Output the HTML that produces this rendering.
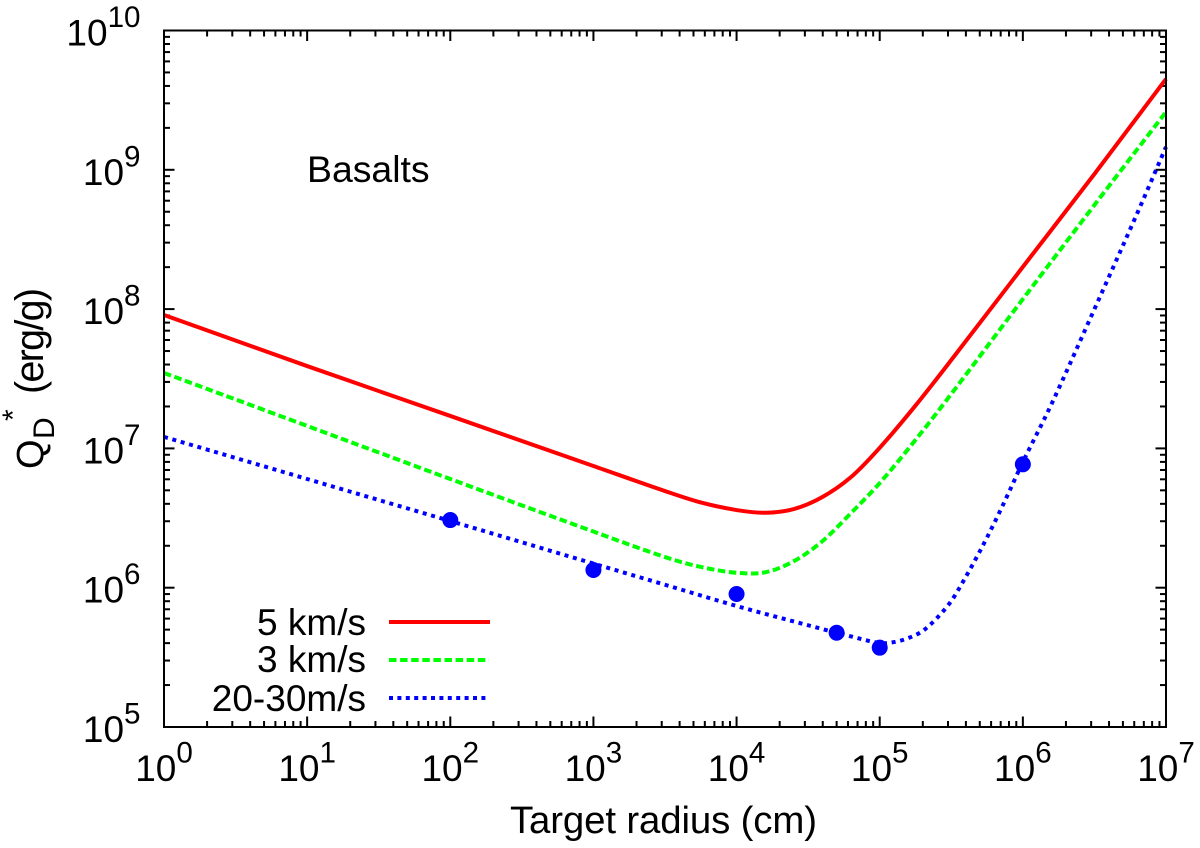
<!DOCTYPE html>
<html lang="en">
<head>
<meta charset="utf-8">
<title>Basalts disruption threshold</title>
<style>
html,body{margin:0;padding:0;background:#fff;}
#chart{display:block;width:1200px;height:848px;}
text{font-family:"Liberation Sans",Arial,sans-serif;font-size:37px;fill:#000;}
</style>
</head>
<body>
<svg id="chart" xmlns="http://www.w3.org/2000/svg" width="1200" height="848" viewBox="0 0 1200 848">
  <rect x="0" y="0" width="1200" height="848" fill="#ffffff"/>
  <g id="ticks"></g>
  <g id="xlabels"></g>
  <g id="ylabels"></g>
  <g id="curves"></g>
  <g id="points"></g>
  <rect x="164" y="30.5" width="1002" height="696.5" fill="none" stroke="#000" stroke-width="2"/>
  <text x="307" y="182" style="font-size:37.4px">Basalts</text>
  <text x="510" y="833" textLength="307" style="font-size:38.4px">Target radius (cm)</text>
  <g>
    <text transform="translate(43,469) rotate(-90)" style="font-size:38px">Q</text>
    <text transform="translate(54,439) rotate(-90)" style="font-size:30px">D</text>
    <text transform="translate(23,421) rotate(-90)" style="font-size:30px">*</text>
    <text transform="translate(43,394) rotate(-90)" textLength="106" style="font-size:39.5px">(erg/g)</text>
  </g>
  <g>
    <text x="366" y="635" text-anchor="end">5 km/s</text>
    <line x1="389" y1="622" x2="490" y2="622" stroke="#ff0000" stroke-width="4"/>
    <text x="366" y="672" text-anchor="end">3 km/s</text>
    <line x1="389" y1="660" x2="489" y2="660" stroke="#00ff00" stroke-width="4" stroke-dasharray="7.5 3.6"/>
    <text x="366" y="711" text-anchor="end">20-30m/s</text>
    <line x1="389" y1="698" x2="487" y2="698" stroke="#0000ff" stroke-width="4" stroke-dasharray="4 4.4"/>
  </g>
</svg>
<script>
// Chart data
const xTickExponents = [0, 1, 2, 3, 4, 5, 6, 7];
const yTickExponents = [5, 6, 7, 8, 9, 10];
const minorMultipliers = [2, 3, 4, 5, 6, 7, 8, 9];

const radius5 = [1, 10, 100, 1000, 3162, 5623, 10000, 15849, 25119, 39811, 63096, 100000, 177828, 316228, 1000000, 3162278, 10000000];
const q5 = [9.07e7, 3.90e7, 1.71e7, 7.48e6, 4.94e6, 4.09e6, 3.61e6, 3.45e6, 3.67e6, 4.48e6, 6.23e6, 1.01e7, 2.03e7, 4.31e7, 2.01e8, 9.33e8, 4.49e9];

const radius3 = [1, 10, 100, 1000, 3162, 5623, 10000, 15849, 25119, 39811, 63096, 100000, 177828, 316228, 1000000, 3162278, 10000000];
const q3 = [3.48e7, 1.45e7, 6.03e6, 2.53e6, 1.66e6, 1.41e6, 1.28e6, 1.29e6, 1.55e6, 2.16e6, 3.44e6, 5.64e6, 1.15e7, 2.46e7, 1.18e8, 5.59e8, 2.60e9];

const radiusSlow = [1, 10, 100, 1000, 3162, 10000, 25119, 63096, 100000, 125893, 158489, 199526, 251189, 316228, 398107, 501187, 630957, 794328, 1000000, 1584893, 3162278, 6309573, 10000000];
const qSlow = [1.21e7, 6.03e6, 3.01e6, 1.49e6, 1.05e6, 7.39e5, 5.72e5, 4.47e5, 4.01e5, 4.07e5, 4.35e5, 4.89e5, 6.06e5, 8.03e5, 1.19e6, 1.83e6, 2.91e6, 4.78e6, 7.99e6, 2.08e7, 1.00e8, 4.90e8, 1.46e9];

const pointRadius = [100, 1000, 10000, 50000, 100000, 1000000];
const pointQ = [3.06e6, 1.34e6, 9.01e5, 4.75e5, 3.71e5, 7.69e6];

// Axis functions (log-log)
const NS = 'http://www.w3.org/2000/svg';
const plot = { left: 164, right: 1166, top: 30.5, bottom: 727 };
function xScale(r) {
  return plot.left + (Math.log10(r) - 0) / 7 * (plot.right - plot.left);
}
function yScale(q) {
  return plot.bottom - (Math.log10(q) - 5) / 5 * (plot.bottom - plot.top);
}
function curvePath(xs, ys) {
  const p = xs.map(function (r, i) { return [xScale(r), yScale(ys[i])]; });
  let d = 'M' + p[0][0].toFixed(2) + ' ' + p[0][1].toFixed(2);
  for (let i = 0; i < p.length - 1; i++) {
    const a = p[Math.max(i - 1, 0)], b = p[i], c = p[i + 1], e = p[Math.min(i + 2, p.length - 1)];
    const dx = c[0] - b[0];
    const m1 = (c[1] - a[1]) / ((c[0] - a[0]) || 1);
    const m2 = (e[1] - b[1]) / ((e[0] - b[0]) || 1);
    d += 'C' + (b[0] + dx / 3).toFixed(2) + ' ' + (b[1] + m1 * dx / 3).toFixed(2) + ' ' +
         (c[0] - dx / 3).toFixed(2) + ' ' + (c[1] - m2 * dx / 3).toFixed(2) + ' ' +
         c[0].toFixed(2) + ' ' + c[1].toFixed(2);
  }
  return d;
}
function addTick(parent, x1, y1, x2, y2, name) {
  const t = document.createElementNS(NS, 'line');
  t.setAttribute('x1', x1);
  t.setAttribute('y1', y1);
  t.setAttribute('x2', x2);
  t.setAttribute('y2', y2);
  t.setAttribute('stroke', '#000');
  t.setAttribute('stroke-width', '2');
  
  
  parent.appendChild(t);
}
function addPowerLabel(parent, exponent, x, y, anchor, name) {
  const t = document.createElementNS(NS, 'text');
  t.setAttribute('x', x);
  t.setAttribute('y', y);
  t.setAttribute('text-anchor', anchor);
  
  
  t.appendChild(document.createTextNode('10'));
  const s = document.createElementNS(NS, 'tspan');
  s.setAttribute('dy', '-18.5');
  s.setAttribute('style', 'font-size:29.6px');
  s.textContent = String(exponent);
  t.appendChild(s);
  parent.appendChild(t);
}

const MAJOR = 10.5, MINOR = 6;
const tickGroup = document.getElementById('ticks');
const xLabelGroup = document.getElementById('xlabels');
const yLabelGroup = document.getElementById('ylabels');

xTickExponents.forEach(function (e) {
  const r = Math.pow(10, e);
  const x = xScale(r);
  addTick(tickGroup, x, plot.bottom, x, plot.bottom - MAJOR, 'x-major-tick');
  addTick(tickGroup, x, plot.top, x, plot.top + MAJOR, 'x-major-tick-top');
  addPowerLabel(xLabelGroup, e, x, 781, 'middle', 'x-tick-label');
  if (e < xTickExponents[xTickExponents.length - 1]) {
    minorMultipliers.forEach(function (m) {
      const mx = xScale(r * m);
      addTick(tickGroup, mx, plot.bottom, mx, plot.bottom - MINOR, 'x-minor-tick');
      addTick(tickGroup, mx, plot.top, mx, plot.top + MINOR, 'x-minor-tick-top');
    });
  }
});

yTickExponents.forEach(function (e) {
  const q = Math.pow(10, e);
  const y = yScale(q);
  addTick(tickGroup, plot.left, y, plot.left + MAJOR, y, 'y-major-tick');
  addTick(tickGroup, plot.right, y, plot.right - MAJOR, y, 'y-major-tick-right');
  addPowerLabel(yLabelGroup, e, 140.5, y + 15, 'end', 'y-tick-label');
  if (e < yTickExponents[yTickExponents.length - 1]) {
    minorMultipliers.forEach(function (m) {
      const my = yScale(q * m);
      addTick(tickGroup, plot.left, my, plot.left + MINOR, my, 'y-minor-tick');
      addTick(tickGroup, plot.right, my, plot.right - MINOR, my, 'y-minor-tick-right');
    });
  }
});

const curveGroup = document.getElementById('curves');

const curve5 = document.createElementNS(NS, 'path');
curve5.setAttribute('d', curvePath(radius5, q5));
curve5.setAttribute('fill', 'none');
curve5.setAttribute('stroke', '#ff0000');
curve5.setAttribute('stroke-width', '4');


curveGroup.appendChild(curve5);

const curve3 = document.createElementNS(NS, 'path');
curve3.setAttribute('d', curvePath(radius3, q3));
curve3.setAttribute('fill', 'none');
curve3.setAttribute('stroke', '#00ff00');
curve3.setAttribute('stroke-width', '4');
curve3.setAttribute('stroke-dasharray', '7.5 3.6');


curveGroup.appendChild(curve3);

const curveSlow = document.createElementNS(NS, 'path');
curveSlow.setAttribute('d', curvePath(radiusSlow, qSlow));
curveSlow.setAttribute('fill', 'none');
curveSlow.setAttribute('stroke', '#0000ff');
curveSlow.setAttribute('stroke-width', '4');
curveSlow.setAttribute('stroke-dasharray', '4 4.7');


curveGroup.appendChild(curveSlow);

const pointGroup = document.getElementById('points');
pointRadius.forEach(function (r, i) {
  const c = document.createElementNS(NS, 'circle');
  c.setAttribute('cx', xScale(r));
  c.setAttribute('cy', yScale(pointQ[i]));
  c.setAttribute('r', '8');
  c.setAttribute('fill', '#0000ff');
  
  
  pointGroup.appendChild(c);
});
</script>
</body>
</html>
